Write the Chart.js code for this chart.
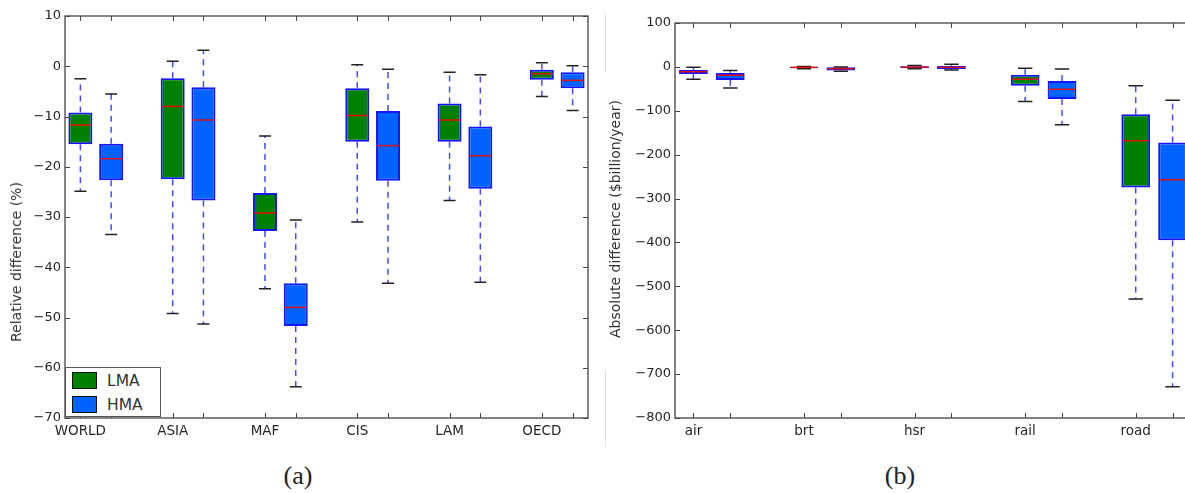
<!DOCTYPE html>
<html>
<head>
<meta charset="utf-8">
<script src="https://cdn.jsdelivr.net/npm/chart.js@4"></script>
<style>
html,body{margin:0;padding:0;background:#fff;width:1185px;height:493px;overflow:hidden;position:relative;font-family:'DejaVu Sans',sans-serif;color:#262626;}
.wrap{position:absolute;}
.legend{position:absolute;left:65px;top:367px;width:96px;height:50px;border:1px solid #555;background:#fff;box-sizing:border-box;}
.legend .row{position:absolute;left:6px;height:17px;display:flex;align-items:center;}
.legend .sw{width:25px;height:17px;border:1.5px solid #111;box-sizing:border-box;margin-right:10px;}
.legend .tx{font-size:15.5px;color:#333;}
.ytitle{position:absolute;white-space:nowrap;transform-origin:center center;transform:translate(-50%,-50%) rotate(-90deg);font-size:14px;color:#333;}
.cap{position:absolute;font-family:'Liberation Serif',serif;font-size:26px;line-height:26px;color:#222;transform:translateX(-50%);}
.faint{position:absolute;width:1px;background:#e2e2e2;}
</style>
</head>
<body>
<div id="wa" class="wrap" style="left:0;top:0;width:600px;height:440px"><canvas id="ca"></canvas></div>
<div id="wb" class="wrap" style="left:600px;top:0;width:600px;height:440px"><canvas id="cb"></canvas></div>
<div class="faint" style="left:605px;top:13px;height:59px"></div>
<div class="faint" style="left:605px;top:370px;height:77px"></div>
<div id="legend" class="legend"></div>
<div class="ytitle" id="ta" style="left:16px;top:262px">Relative difference (%)</div>
<div class="ytitle" id="tb" style="left:615px;top:219px">Absolute difference ($billion/year)</div>
<div class="cap" style="left:298px;top:463px">(a)</div>
<div class="cap" style="left:900px;top:463px">(b)</div>
<script>
// ---------- data ----------
const seriesNames = ['LMA', 'HMA'];
const seriesFill = ['#008000', '#0063ff'];

// (a) relative difference (%)
const relCategories = ['WORLD', 'ASIA', 'MAF', 'CIS', 'LAM', 'OECD'];
const relYTicks = [10, 0, -10, -20, -30, -40, -50, -60, -70];
const relLmaLow  = [-24.9, -49.2, -44.3, -31.0, -26.7, -6.0];
const relLmaQ1   = [-15.5, -22.5, -32.8, -15.0, -15.0, -2.7];
const relLmaMed  = [-11.7,  -8.0, -29.2,  -9.8, -10.7, -1.5];
const relLmaQ3   = [ -9.2,  -2.4, -25.2,  -4.4,  -7.4, -0.7];
const relLmaHigh = [ -2.5,   1.0, -13.9,   0.3,  -1.2,  0.7];
const relHmaLow  = [-33.5, -51.3, -63.8, -43.2, -43.0, -8.8];
const relHmaQ1   = [-22.7, -26.7, -51.7, -22.8, -24.4, -4.4];
const relHmaMed  = [-18.4, -10.7, -48.0, -15.8, -17.8, -2.8];
const relHmaQ3   = [-15.4,  -4.2, -43.2,  -8.9, -12.0, -1.2];
const relHmaHigh = [ -5.5,   3.2, -30.6,  -0.6,  -1.7,  0.1];

// (b) absolute difference ($billion/year)
const absCategories = ['air', 'brt', 'hsr', 'rail', 'road'];
const absYTicks = [100, 0, -100, -200, -300, -400, -500, -600, -700, -800];
const absLmaLow  = [-28, -4, -4,  -79, -529];
const absLmaQ1   = [-16, -3, -3,  -43, -275];
const absLmaMed  = [-11, -1, -0.5, -28, -168];
const absLmaQ3   = [ -7,  0, 1.5, -18, -108];
const absLmaHigh = [ -1,  1,  3,   -3,  -43];
const absHmaLow  = [-48, -10, -7, -132, -729];
const absHmaQ1   = [-30,  -8, -5,  -73, -395];
const absHmaMed  = [-19,  -4, -1,  -51, -257];
const absHmaQ3   = [-14,  -1,  2,  -32, -172];
const absHmaHigh = [ -8,   0,  6,   -5,  -76];

// ---------- helpers ----------
const FONT = "'DejaVu Sans', sans-serif";
const fmt = v => String(v).replace('-', '\u2212');

function slotLabels(cats) {
  const out = [];
  cats.forEach((c, g) => { out.push(c, ''); if (g < cats.length - 1) out.push(''); });
  return out;
}
function slotData(q1, q3, s, n) {
  const out = new Array(n).fill(null);
  q1.forEach((v, g) => { out[g * 3 + s] = [q1[g], q3[g]]; });
  return out;
}

const boxParts = {
  id: 'boxParts',
  afterDatasetsDraw(chart, args, opts) {
    const ctx = chart.ctx, ys = chart.scales.y;
    opts.series.forEach((s, si) => {
      const meta = chart.getDatasetMeta(si);
      s.med.forEach((m, g) => {
        const el = meta.data[g * 3 + si];
        const cx = el.x, w = el.width;
        const pLow = ys.getPixelForValue(s.low[g]);
        const pQ1 = ys.getPixelForValue(s.q1[g]);
        const pMed = ys.getPixelForValue(m);
        const pQ3 = ys.getPixelForValue(s.q3[g]);
        const pHigh = ys.getPixelForValue(s.high[g]);
        ctx.save();
        // whiskers
        ctx.strokeStyle = 'rgba(40,40,255,0.85)';
        ctx.lineWidth = 1.5;
        ctx.setLineDash([6, 5]);
        ctx.beginPath();
        ctx.moveTo(cx, pQ1); ctx.lineTo(cx, pLow);
        ctx.moveTo(cx, pQ3); ctx.lineTo(cx, pHigh);
        ctx.stroke();
        ctx.setLineDash([]);
        // caps
        ctx.strokeStyle = '#222';
        ctx.lineWidth = 1.5;
        ctx.beginPath();
        ctx.moveTo(cx - w / 4, pLow); ctx.lineTo(cx + w / 4, pLow);
        ctx.moveTo(cx - w / 4, pHigh); ctx.lineTo(cx + w / 4, pHigh);
        ctx.stroke();
        // median
        ctx.strokeStyle = '#e01010';
        ctx.lineWidth = 1.5;
        ctx.beginPath();
        ctx.moveTo(cx - w / 2 + 1, pMed); ctx.lineTo(cx + w / 2 - 1, pMed);
        ctx.stroke();
        ctx.restore();
      });
    });
  }
};

const frame = {
  id: 'frame',
  afterDraw(chart) {
    const ctx = chart.ctx, a = chart.chartArea;
    const xs = chart.scales.x, ys = chart.scales.y;
    ctx.save();
    ctx.strokeStyle = '#444';
    ctx.lineWidth = 1.3;
    ctx.strokeRect(a.left, a.top, a.right - a.left, a.bottom - a.top);
    ctx.lineWidth = 1;
    ctx.beginPath();
    const tl = 5;
    ys.ticks.forEach(t => {
      const p = Math.round(ys.getPixelForValue(t.value)) + 0.5;
      ctx.moveTo(a.left, p); ctx.lineTo(a.left + tl, p);
      ctx.moveTo(a.right, p); ctx.lineTo(a.right - tl, p);
    });
    xs.getLabels().forEach((l, i) => {
      if (i % 3 === 2) return;
      const p = Math.round(xs.getPixelForValue(i)) + 0.5;
      ctx.moveTo(p, a.bottom); ctx.lineTo(p, a.bottom - tl);
      ctx.moveTo(p, a.top); ctx.lineTo(p, a.top + tl);
    });
    ctx.stroke();
    ctx.restore();
  }
};

function makeChart(id, cats, lma, hma, yTicks, yWidth, pad) {
  const labels = slotLabels(cats);
  const n = labels.length;
  const series = [lma, hma];
  return new Chart(document.getElementById(id), {
    type: 'bar',
    data: {
      labels,
      datasets: series.map((s, si) => ({
        label: seriesNames[si],
        data: slotData(s.q1, s.q3, si, n),
        backgroundColor: seriesFill[si],
        borderColor: '#1414ff',
        borderWidth: 2,
        borderSkipped: false,
        grouped: false,
        barPercentage: 0.78,
        categoryPercentage: 1
      }))
    },
    options: {
      animation: false,
      responsive: true,
      maintainAspectRatio: false,
      layout: { padding: pad },
      plugins: {
        legend: { display: false },
        tooltip: { enabled: false },
        boxParts: { series }
      },
      scales: {
        x: {
          type: 'category',
          offset: true,
          grid: { display: false, drawTicks: false },
          border: { display: false },
          ticks: { autoSkip: false, maxRotation: 0, minRotation: 0, padding: 5,
                   font: { family: FONT, size: 13.5 }, color: '#262626' },
          afterFit(s) { s.height = 22; }
        },
        y: {
          type: 'linear',
          min: yTicks[yTicks.length - 1],
          max: yTicks[0],
          grid: { display: false, drawTicks: false },
          border: { display: false },
          ticks: { padding: 4, font: { family: FONT, size: 13 }, color: '#262626',
                   callback: v => fmt(v) },
          afterBuildTicks(s) { s.ticks = yTicks.map(v => ({ value: v })); },
          afterFit(s) { s.width = yWidth; }
        }
      }
    },
    plugins: [boxParts, frame]
  });
}

makeChart('ca', relCategories,
  { low: relLmaLow, q1: relLmaQ1, med: relLmaMed, q3: relLmaQ3, high: relLmaHigh },
  { low: relHmaLow, q1: relHmaQ1, med: relHmaMed, q3: relHmaQ3, high: relHmaHigh },
  relYTicks, 65, { top: 16, right: 12, left: 0, bottom: 0 });

makeChart('cb', absCategories,
  { low: absLmaLow, q1: absLmaQ1, med: absLmaMed, q3: absLmaQ3, high: absLmaHigh },
  { low: absHmaLow, q1: absHmaQ1, med: absHmaMed, q3: absHmaQ3, high: absHmaHigh },
  absYTicks, 75, { top: 23, right: 9, left: 0, bottom: 0 });

// legend
const lg = document.getElementById('legend');
seriesNames.forEach((name, i) => {
  const row = document.createElement('div');
  row.className = 'row';
  row.style.top = (4 + i * 24) + 'px';
  const sw = document.createElement('div');
  sw.className = 'sw';
  sw.style.background = seriesFill[i];
  const tx = document.createElement('span');
  tx.className = 'tx';
  tx.textContent = name;
  row.appendChild(sw); row.appendChild(tx);
  lg.appendChild(row);
});
</script>
</body>
</html>
